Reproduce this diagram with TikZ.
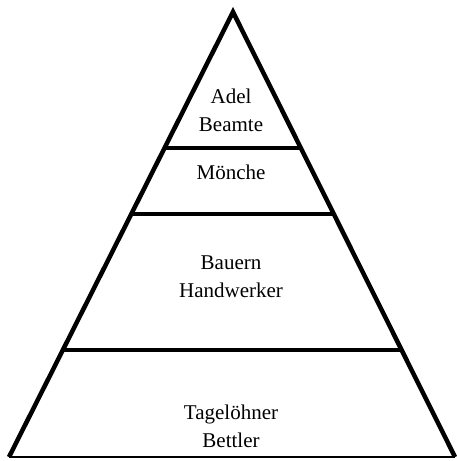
\documentclass[tikz,border=0pt]{standalone}
\usepackage{fontspec}
\setmainfont{Liberation Serif}
\begin{document}
\begin{tikzpicture}[x=1pt,y=-1pt,
  edge/.style={line width=4.5pt,line join=miter,miter limit=20},
  band/.style={line width=4pt},
  label/.style={align=center,font=\fontsize{21}{28}\selectfont,inner sep=0pt}]
\useasboundingbox (0,0) rectangle (456,461);
% outline of the pyramid
\coordinate (apex) at (233,12);
\coordinate (bl) at (9,457);
\coordinate (br) at (455,457);
\draw[edge] (bl) -- (apex) -- (br);
\draw[line width=2pt] (bl) -- (br);
% dividing lines between the tiers
\coordinate (l1) at (164,148); \coordinate (r1) at (301.5,148);
\coordinate (l2) at (131,214); \coordinate (r2) at (334,214);
\coordinate (l3) at (63,350);  \coordinate (r3) at (402,350);
\draw[band] (l1) -- (r1);
\draw[band] (l2) -- (r2);
\draw[band] (l3) -- (r3);
% tier labels
\node[label] (t1) at (231,110) {Adel\\Beamte};
\node[label] (t2) at (231,172) {Mönche};
\node[label] (t3) at (231,277) {Bauern\\Handwerker};
\node[label] (t4) at (231,426) {Tagelöhner\\Bettler};
\end{tikzpicture}
\end{document}
